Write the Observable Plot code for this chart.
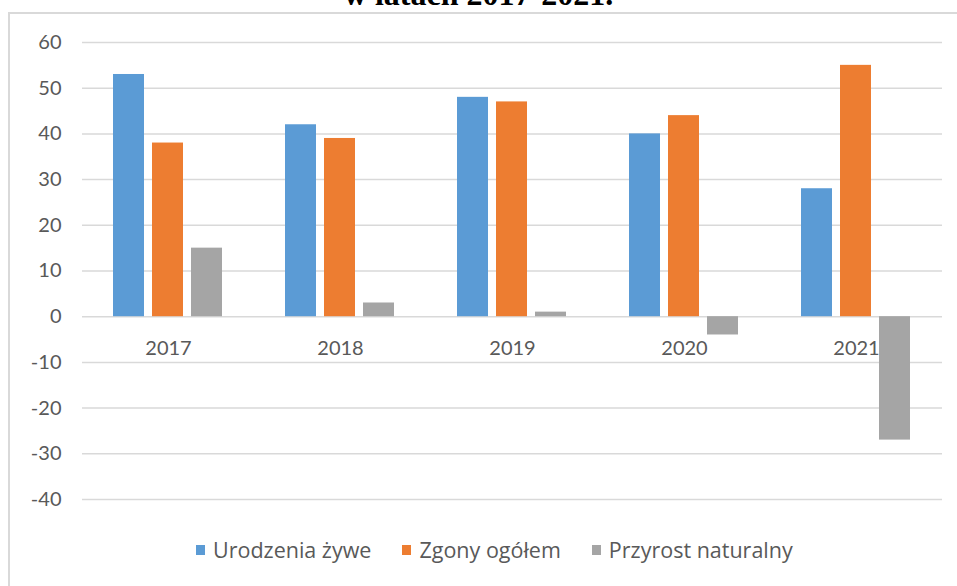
<!DOCTYPE html>
<html>
<head>
<meta charset="utf-8">
<script src="https://cdn.jsdelivr.net/npm/d3@7"></script>
<script src="https://cdn.jsdelivr.net/npm/@observablehq/plot@0.6"></script>
<style>
  html, body { margin: 0; padding: 0; background: #fff; }
  #wrap { position: relative; width: 957px; height: 586px; overflow: hidden; background: #fff; }
  #frame { position: absolute; left: 8px; top: 12px; width: 1000px; height: 1000px; border: 2px solid #d9d9d9; box-sizing: border-box; }
  #title { position: absolute; left: 0; width: 957px; top: -22px; text-align: center; font-family: "Liberation Serif", "Times New Roman", serif; font-weight: bold; font-size: 32px; line-height: 1; color: #000; white-space: nowrap; }
  #chart { position: absolute; left: 0; top: 0; }
  #legend { position: absolute; left: 196px; top: 536px; display: flex; gap: 31px; font-family: "Open Sans", sans-serif; font-size: 21.5px; color: #595959; line-height: 28px; }
  .item { display: flex; align-items: center; gap: 8px; }
  .sw { width: 9px; height: 10px; display: inline-block; }
</style>
</head>
<body>
<div id="wrap">
  <div id="frame"></div>
  <div id="title">w latach 2017-2021.</div>
  <div id="chart"></div>
  <div id="legend"></div>
</div>
<script>
const years = ["2017", "2018", "2019", "2020", "2021"];
const seriesNames = ["Urodzenia żywe", "Zgony ogółem", "Przyrost naturalny"];
const urodzenia = [53, 42, 48, 40, 28];
const zgony = [38, 39, 47, 44, 55];
const przyrost = [15, 3, 1, -4, -27];
const yTicks = [-40, -30, -20, -10, 0, 10, 20, 30, 40, 50, 60];
const colors = ["#5b9bd5", "#ed7d31", "#a5a5a5"];

const seriesValues = [urodzenia, zgony, przyrost];
const rows = years.flatMap((year, i) =>
  seriesNames.map((s, j) => ({year, series: s, value: seriesValues[j][i]}))
);

const chart = Plot.plot({
  width: 957,
  height: 520,
  marginTop: 42,
  marginBottom: 21,
  marginLeft: 81,
  marginRight: 15,
  style: {fontFamily: "Lato, sans-serif", fontSize: "20px", color: "#595959", background: "transparent", overflow: "visible"},
  fx: {domain: years, padding: 0, axis: null, label: null},
  x: {domain: seriesNames, paddingInner: 0.2, paddingOuter: 0.8, axis: null, label: null},
  y: {domain: [-40, 60], axis: null, label: null},
  color: {domain: seriesNames, range: colors},
  marks: [
    Plot.gridY(yTicks, {stroke: "#d9d9d9", strokeOpacity: 1, strokeWidth: 1.5}),
    Plot.axisY(yTicks, {tickSize: 0, tickPadding: 21, tickFormat: d => String(d), fill: "#595959", fontSize: 20, label: null}),
    Plot.text(years, {fx: d => d, y: () => 0, text: d => d, dy: 32, fill: "#595959", fontSize: 20}),
    Plot.barY(rows, {fx: "year", x: "series", y: "value", fill: "series"})
  ]
});
document.getElementById("chart").appendChild(chart);

const legend = document.getElementById("legend");
seriesNames.forEach((s, i) => {
  const item = document.createElement("div");
  item.className = "item";
  const sw = document.createElement("span");
  sw.className = "sw";
  sw.style.background = colors[i];
  const t = document.createElement("span");
  t.textContent = s;
  item.appendChild(sw);
  item.appendChild(t);
  legend.appendChild(item);
});
</script>
</body>
</html>
